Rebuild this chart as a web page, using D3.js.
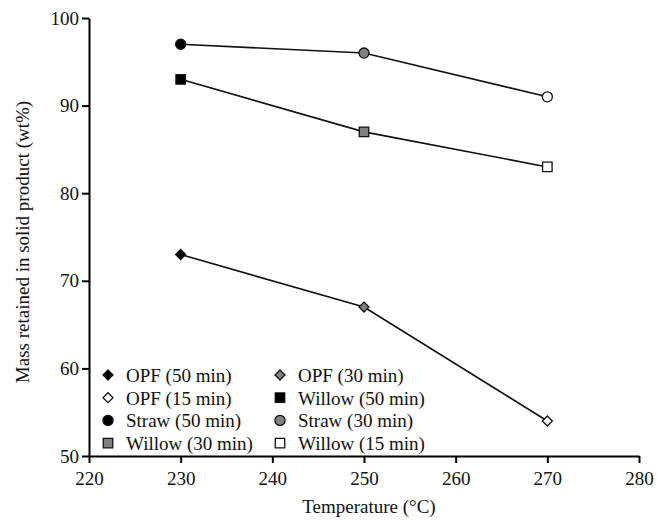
<!DOCTYPE html>
<html lang="en">
<head>
<meta charset="utf-8">
<title>Mass retained vs temperature</title>
<script src="https://cdn.jsdelivr.net/npm/d3@7"></script>
<style>
  body { margin: 0; background: #fff; }
  svg text { font-family: "Liberation Serif", "Times New Roman", Times, serif !important; fill: #111; }
</style>
</head>
<body>
<script>
// data
var temps = [230, 250, 270];
var straw = [97, 96, 91];
var willow = [93, 87, 83];
var opf = [73, 67, 54];
var xTicks = [220, 230, 240, 250, 260, 270, 280];
var yTicks = [50, 60, 70, 80, 90, 100];
// marker fill per temperature point (50, 30, 15 min)
var fills = ["#000", "#808080", "#fff"];

var legendItems = [
  ["diamond", 0, "OPF (50 min)"], ["diamond", 1, "OPF (30 min)"],
  ["diamond", 2, "OPF (15 min)"], ["square", 0, "Willow (50 min)"],
  ["circle", 0, "Straw (50 min)"], ["circle", 1, "Straw (30 min)"],
  ["square", 1, "Willow (30 min)"], ["square", 2, "Willow (15 min)"]
];

var w = 657, h = 527;
var m = {left: 89, right: 18, top: 18, bottom: 71};

var svg = d3.select("body").append("svg").attr("width", w).attr("height", h);

var x = d3.scaleLinear().domain([220, 280]).range([m.left, w - m.right]);
var y = d3.scaleLinear().domain([50, 100]).range([h - m.bottom, m.top]);

var xAxis = d3.axisBottom(x).tickValues(xTicks).tickSize(7).tickPadding(9).tickSizeOuter(0);
var yAxis = d3.axisLeft(y).tickValues(yTicks).tickSize(7).tickPadding(3).tickSizeOuter(0);

var gx = svg.append("g").attr("transform", "translate(0," + (h - m.bottom) + ")").call(xAxis);
var gy = svg.append("g").attr("transform", "translate(" + m.left + ",0)").call(yAxis);
[gx, gy].forEach(function(g) {
  g.attr("font-family", null).attr("font-size", null);
  g.selectAll("path, line").attr("stroke", "#000").attr("stroke-width", 2);
  g.selectAll("text").style("font-size", "19px").attr("fill", "#111");
});

// diamond drawn as a square turned 45 degrees
var diamond = {
  draw: function(ctx, size) {
    var r = Math.sqrt(size / 2);
    ctx.moveTo(0, -r); ctx.lineTo(r, 0); ctx.lineTo(0, r); ctx.lineTo(-r, 0); ctx.closePath();
  }
};
var symbols = {
  circle: d3.symbol().type(d3.symbolCircle).size(80),
  square: d3.symbol().type(d3.symbolSquare).size(90),
  diamond: d3.symbol().type(diamond).size(50)
};

var line = d3.line().x(function(d) { return x(d[0]); }).y(function(d) { return y(d[1]); });

var series = [["circle", straw], ["square", willow], ["diamond", opf]];
series.forEach(function(s) {
  var pts = temps.map(function(t, i) { return [t, s[1][i]]; });
  svg.append("path").datum(pts).attr("d", line)
    .attr("fill", "none").attr("stroke", "#111").attr("stroke-width", 1.6);
  svg.selectAll(null).data(pts).enter().append("path")
    .attr("d", symbols[s[0]])
    .attr("transform", function(d) { return "translate(" + x(d[0]) + "," + y(d[1]) + ")"; })
    .attr("fill", function(d, i) { return fills[i]; })
    .attr("stroke", "#111").attr("stroke-width", 1.3);
});

// legend
var leg = svg.append("g");
legendItems.forEach(function(it, i) {
  var col = i % 2, row = Math.floor(i / 2);
  var lx = 108 + col * 172, ly = 375 + row * 22.7;
  leg.append("path").attr("d", symbols[it[0]])
    .attr("transform", "translate(" + lx + "," + ly + ")")
    .attr("fill", fills[it[1]]).attr("stroke", "#111").attr("stroke-width", 1.3);
  leg.append("text").attr("x", lx + 18).attr("y", ly + 7)
    .style("font-size", "19px").text(it[2]);
});

svg.append("text").attr("x", 369).attr("y", 513)
  .attr("text-anchor", "middle").style("font-size", "19px").text("Temperature (°C)");
svg.append("text").attr("transform", "translate(29,242) rotate(-90)")
  .attr("text-anchor", "middle").style("font-size", "19px").text("Mass retained in solid product (wt%)");
</script>
</body>
</html>
